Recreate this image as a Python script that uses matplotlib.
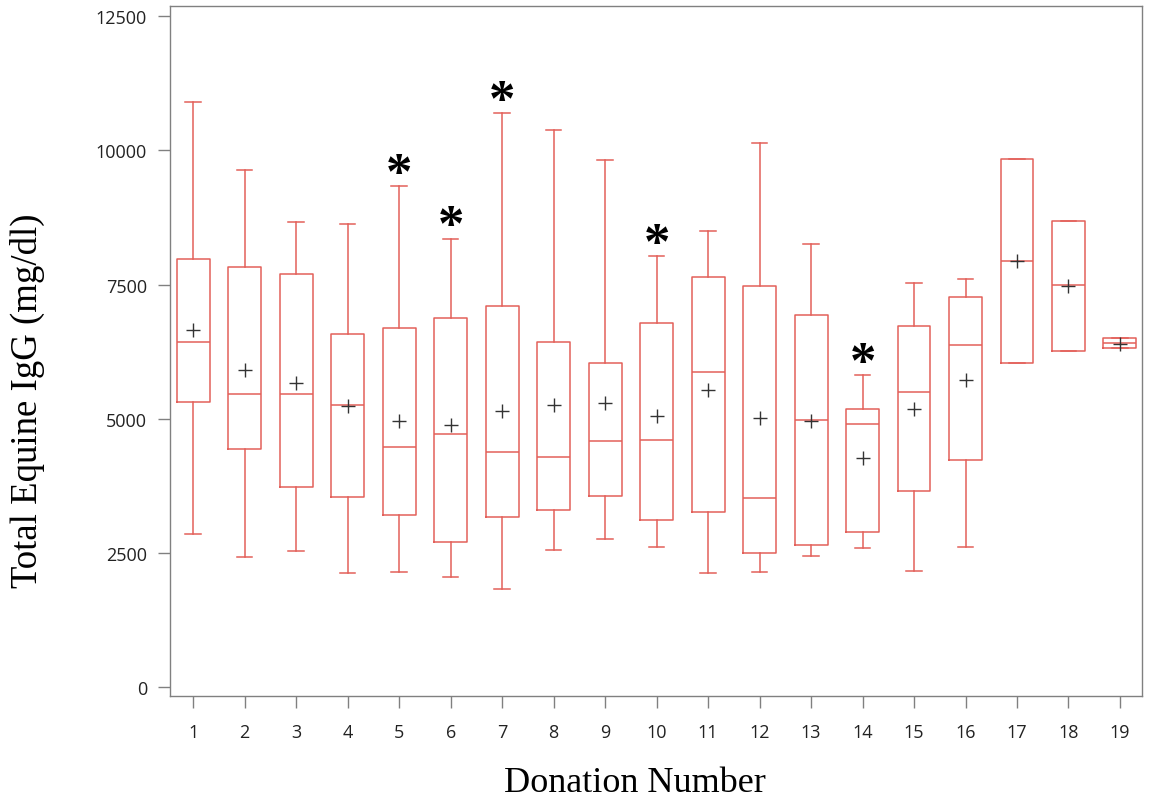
import numpy as np
import matplotlib
matplotlib.use('Agg')
from matplotlib import pyplot as plt

# Box statistics per donation (mg/dl)
donation = list(range(1, 20))
whis_hi = [10900, 9630, 8660, 8620, 9330, 8350, 10690, 10380, 9820, 8030,
           8500, 10130, 8250, 5810, 7530, 7600, 9840, 8680, 6500]
q3 = [7970, 7820, 7690, 6580, 6690, 6870, 7100, 6430, 6040, 6780,
      7640, 7470, 6930, 5180, 6720, 7270, 9840, 8680, 6500]
median = [6430, 5460, 5460, 5250, 4470, 4710, 4380, 4290, 4580, 4600,
          5870, 3520, 4970, 4900, 5500, 6370, 7940, 7490, 6410]
q1 = [5310, 4430, 3730, 3540, 3200, 2700, 3170, 3300, 3560, 3110,
      3260, 2500, 2650, 2890, 3650, 4230, 6040, 6260, 6320]
whis_lo = [2850, 2420, 2530, 2120, 2140, 2050, 1830, 2550, 2760, 2610,
           2120, 2140, 2440, 2590, 2160, 2610, 6040, 6260, 6320]
mean = [6650, 5900, 5660, 5240, 4960, 4880, 5140, 5250, 5290, 5050,
        5530, 5010, 4960, 4270, 5180, 5720, 7940, 7470, 6400]

# donations marked with an asterisk
starred = [5, 6, 7, 10, 14]

red = '#e3605a'

stats = []
for i in range(len(donation)):
    stats.append({'whislo': whis_lo[i], 'q1': q1[i], 'med': median[i],
                  'q3': q3[i], 'whishi': whis_hi[i], 'mean': mean[i],
                  'fliers': []})

fig = plt.figure(figsize=(11.49, 8.03), dpi=100)
ax = fig.add_axes([0.148, 0.132, 0.846, 0.859])

ax.bxp(stats, positions=donation, widths=0.64, showmeans=True,
       showfliers=False, capwidths=0.3,
       boxprops=dict(color=red, linewidth=1.1),
       whiskerprops=dict(color=red, linewidth=1.1),
       capprops=dict(color=red, linewidth=1.1),
       medianprops=dict(color=red, linewidth=1.1),
       meanprops=dict(marker='+', markeredgecolor='#333333', markersize=10,
                      markeredgewidth=1.0))

for d in starred:
    ax.annotate('*', xy=(d, whis_hi[d - 1]), xytext=(0, -9),
                textcoords='offset points', ha='center', va='bottom',
                fontsize=38, fontweight='bold', family='Liberation Serif')

ax.set_xlim(0.55, 19.43)
ax.set_ylim(-168, 12686)
ax.set_xticks(donation)
ax.set_xticklabels([str(d) for d in donation])
ax.set_yticks([0, 2500, 5000, 7500, 10000, 12500])

for s in ax.spines.values():
    s.set_color('#808080')
    s.set_linewidth(1.0)
ax.tick_params(axis='both', length=8.5, width=1.0, color='#808080',
               labelsize=13, labelcolor='#222222')
ax.tick_params(axis='x', pad=11)
ax.tick_params(axis='y', pad=8)
for lab in ax.get_xticklabels() + ax.get_yticklabels():
    lab.set_family('Open Sans')

ax.set_ylabel('Total Equine IgG (mg/dl)', family='Liberation Serif',
              fontsize=26.5)
ax.set_xlabel('Donation Number', family='Liberation Serif', fontsize=26)
ax.yaxis.set_label_coords(-0.129, 0.43)
ax.xaxis.set_label_coords(0.478, -0.101)

fig.savefig('out.png', dpi=100)
